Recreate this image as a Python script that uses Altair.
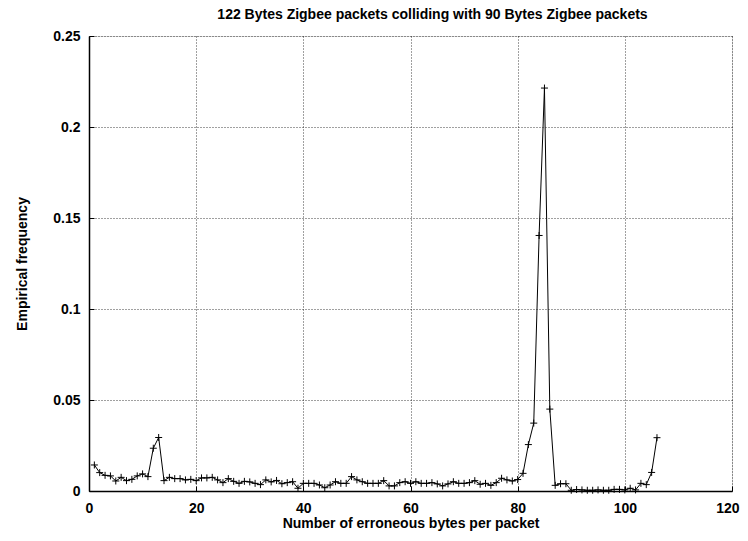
import altair as alt
import pandas as pd

# erroneous bytes per packet
x_vals = list(range(1, 107))
# empirical frequency
y_vals = [
    0.0143, 0.0101, 0.0086, 0.0083, 0.0055, 0.0075, 0.0057, 0.0064, 0.0083, 0.0094,
    0.0079, 0.0235, 0.0294, 0.0057, 0.0075, 0.0068, 0.0068, 0.0061, 0.0064, 0.0057,
    0.0072, 0.0072, 0.0075, 0.0061, 0.0046, 0.0068, 0.0053, 0.0042, 0.0053, 0.0050,
    0.0042, 0.0035, 0.0061, 0.0050, 0.0058, 0.0040, 0.0046, 0.0051, 0.0015, 0.0042,
    0.0042, 0.0042, 0.0033, 0.0018, 0.0033, 0.0051, 0.0042, 0.0042, 0.0079, 0.0061,
    0.0051, 0.0042, 0.0042, 0.0042, 0.0057, 0.0028, 0.0028, 0.0046, 0.0051, 0.0042,
    0.0051, 0.0042, 0.0042, 0.0046, 0.0039, 0.0028, 0.0039, 0.0051, 0.0042, 0.0042,
    0.0046, 0.0057, 0.0037, 0.0042, 0.0031, 0.0046, 0.0070, 0.0061, 0.0055, 0.0063,
    0.0097, 0.0255, 0.0373, 0.1404, 0.2214, 0.0450, 0.0031, 0.0040, 0.0040, 0.0004,
    0.0008, 0.0006, 0.0004, 0.0004, 0.0006, 0.0004, 0.0004, 0.0009, 0.0009, 0.0006,
    0.0015, 0.0006, 0.0042, 0.0035, 0.0102, 0.0293,
]
x_ticks = [0, 20, 40, 60, 80, 100, 120]
y_ticks = [0, 0.05, 0.1, 0.15, 0.2, 0.25]

title_text = "122 Bytes Zigbee packets colliding with 90 Bytes Zigbee packets"
x_title = "Number of erroneous bytes per packet"
y_title = "Empirical frequency"

df = pd.DataFrame({"x": x_vals, "y": y_vals})

FONT = "Liberation Sans"

x_enc = alt.X(
    "x:Q",
    scale=alt.Scale(domain=[0, 120], nice=False, zero=False),
    axis=alt.Axis(
        values=x_ticks,
        title=x_title,
        format="d",
        grid=True,
        gridColor="#000000",
        gridOpacity=0.75,
        gridDash=[1, 2],
        gridWidth=1,
        domain=True,
        domainColor="#000000",
        domainWidth=1.5,
        ticks=True,
        tickSize={"expr": "-5"},
        tickColor="#000000",
        tickWidth=1,
        labelFont=FONT,
        labelFontSize=14,
        labelFontWeight="bold",
        labelColor="#000000",
        labelBaseline="alphabetic",
        labelPadding=26,
        labelAlign={"condition": {"test": "datum.value == 120", "value": "right"}, "value": "center"},
        labelOffset={"condition": {"test": "datum.value == 120", "value": 7}, "value": 0},
        titleFont=FONT,
        titleFontSize=14,
        titleFontWeight="bold",
        titleColor="#000000",
        titleBaseline="alphabetic",
        titleY=36,
        labelFlush=False,
    ),
)
y_enc = alt.Y(
    "y:Q",
    scale=alt.Scale(domain=[0, 0.25], nice=False),
    axis=alt.Axis(
        values=y_ticks,
        title=y_title,
        format=".2~f",
        grid=True,
        gridColor="#000000",
        gridOpacity=0.75,
        gridDash=[1, 2],
        gridWidth=1,
        domain=True,
        domainColor="#000000",
        domainWidth=1.5,
        ticks=True,
        tickSize={"expr": "-5"},
        tickColor="#000000",
        tickWidth=1,
        labelFont=FONT,
        labelFontSize=14,
        labelFontWeight="bold",
        labelColor="#000000",
        labelBaseline="middle",
        labelPadding=14,
        titleFont=FONT,
        titleFontSize=14,
        titleFontWeight="bold",
        titleColor="#000000",
        titleBaseline="alphabetic",
        titleX=-63,
        titleAngle=-90,
        labelFlush=False,
    ),
)

line = alt.Chart(df).mark_line(color="#000000", strokeWidth=1).encode(x=x_enc, y=y_enc)
pts = alt.Chart(df).mark_point(
    shape="M-1,0L1,0M0,-1L0,1",
    filled=False,
    stroke="#000000",
    strokeWidth=1,
    size=49,
    opacity=1,
).encode(x="x:Q", y="y:Q")

chart = (
    alt.layer(line, pts)
    .properties(
        width=643,
        height=455,
        title=alt.TitleParams(
            title_text,
            font=FONT,
            fontSize=14,
            fontWeight="bold",
            color="#000000",
            anchor="middle",
            dx=22,
            dy=9,
            offset=16,
        ),
        autosize=alt.AutoSizeParams(type="none"),
        padding={"left": 81, "top": 28, "right": 8, "bottom": 42},
    )
    .configure_view(stroke="#000000", strokeWidth=1.5)
    .configure(background="#ffffff")
)

chart.save("out.html", embed_options={"renderer": "svg", "actions": False})
